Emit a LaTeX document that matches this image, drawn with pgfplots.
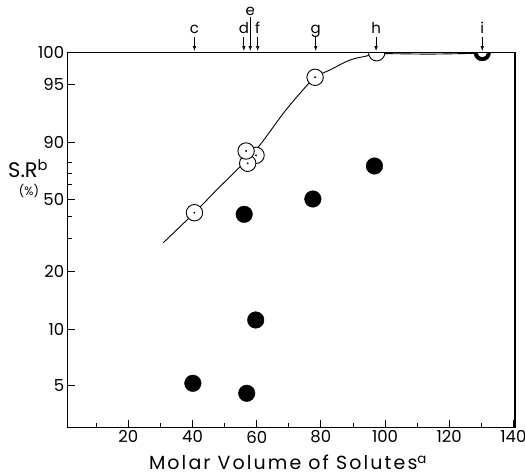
\documentclass[border=0pt]{standalone}
\usepackage{fontspec}
\setmainfont{Poppins}
\usepackage{pgfplots}
\pgfplotsset{compat=1.18}
\usetikzlibrary{arrows.meta}
\begin{document}
\begin{tikzpicture}[x=1pt,y=1pt]
\useasboundingbox (-67.7,-48.7) rectangle (457.3,427.3);
\begin{axis}[
  at={(0,0)}, anchor=south west,
  scale only axis, width=447.3pt, height=374.6pt,
  xmin=1.1, xmax=140.5, ymin=0, ymax=374.6,
  axis line style={line width=1.3pt},
  clip marker paths=true,
  xtick={20,40,...,140}, minor xtick={10,30,...,130},
  ytick={41.6,98.3,155.6,228,285,343,374.6},
  yticklabels={5,10,20,50,90,95,100},
  minor ytick={189,211.3,243,254,265},
  tick align=inside, xtick pos=bottom, ytick pos=left,
  major tick length=7pt, minor tick length=4.5pt,
  tick style={black, line width=0.9pt},
  ticklabel style={font=\fontsize{16.5}{16.5}\selectfont},
  /pgf/number format/assume math mode=true,
]
% fitted curve
\addplot[black, line width=0.9pt, smooth, tension=0.55] coordinates {
 (30.9,184.6) (40.6,214.6) (47.5,237.3) (54.8,260.6) (61.0,282.3)
 (68.3,314.0) (73.5,334.0) (78.2,350.0) (82.8,357.3) (89.1,367.3)
 (94.3,371.3) (97.4,373.6) (114.0,373.2) (128.6,374.0)
};
% open circles
\addplot[only marks, mark=*, mark size=8.2pt, mark options={fill=white, draw=black, line width=0.9pt}] coordinates {
 (40.6,214.6) (59.8,272.0) (57.2,264.0) (56.7,276.3) (78.2,350.0) (97.4,374.6)
};
\addplot[only marks, mark=*, mark size=0.7pt, black] coordinates {
 (40.6,214.6) (59.8,272.0) (57.2,264.0) (56.7,276.3) (78.2,350.0)
};
% filled circles
\addplot[only marks, mark=*, mark size=8.3pt, black] coordinates {
 (40.1,44.0) (56.1,213.0) (56.9,34.0) (59.7,107.3) (77.5,228.3) (96.7,261.3) (130.3,374.6)
};
\addplot[only marks, mark=*, mark size=4.3pt, mark options={fill=white, draw=white}] coordinates {
 (130.3,374.6)
};
\coordinate (c) at (axis cs:40.6,374.6);
\coordinate (d) at (axis cs:56.0,374.6);
\coordinate (e) at (axis cs:58.0,374.6);
\coordinate (f) at (axis cs:60.3,374.6);
\coordinate (g) at (axis cs:78.4,374.6);
\coordinate (h) at (axis cs:97.2,374.6);
\coordinate (i) at (axis cs:130.3,374.6);
\end{axis}
\draw[line width=1.3pt] (0,374.6) -- (447.3,374.6);
\foreach \n in {c,d,f,g,h,i}{
  \draw[line width=0.8pt, -{Latex[length=5pt,width=3.5pt]}] ([yshift=16pt]\n) -- ([yshift=1.5pt]\n);
  \node[anchor=base, inner sep=0pt, font=\fontsize{15}{15}\selectfont] at ([yshift=19.5pt]\n) {\n};
}
\draw[line width=0.8pt, -{Latex[length=5pt,width=3.5pt]}] ([yshift=36pt]e) -- ([yshift=1.5pt]e);
\node[anchor=base, inner sep=0pt, font=\fontsize{15}{15}\selectfont] at ([yshift=37.5pt]e) {e};
% axis labels
\node[anchor=base, inner sep=0pt, font=\fontsize{19}{19}\selectfont\addfontfeature{LetterSpace=11}] at (220.3,-42.7) {Molar Volume of Solutes\textsuperscript{a}};
\node[anchor=base west, inner sep=0pt, font=\fontsize{21}{21}\selectfont] at (-59.7,249.3) {S.R\textsuperscript{b}};
\node[anchor=center, inner sep=0pt, font=\fontsize{12}{12}\selectfont] at (-38.7,236.3) {(\%)};
\end{tikzpicture}
\end{document}
